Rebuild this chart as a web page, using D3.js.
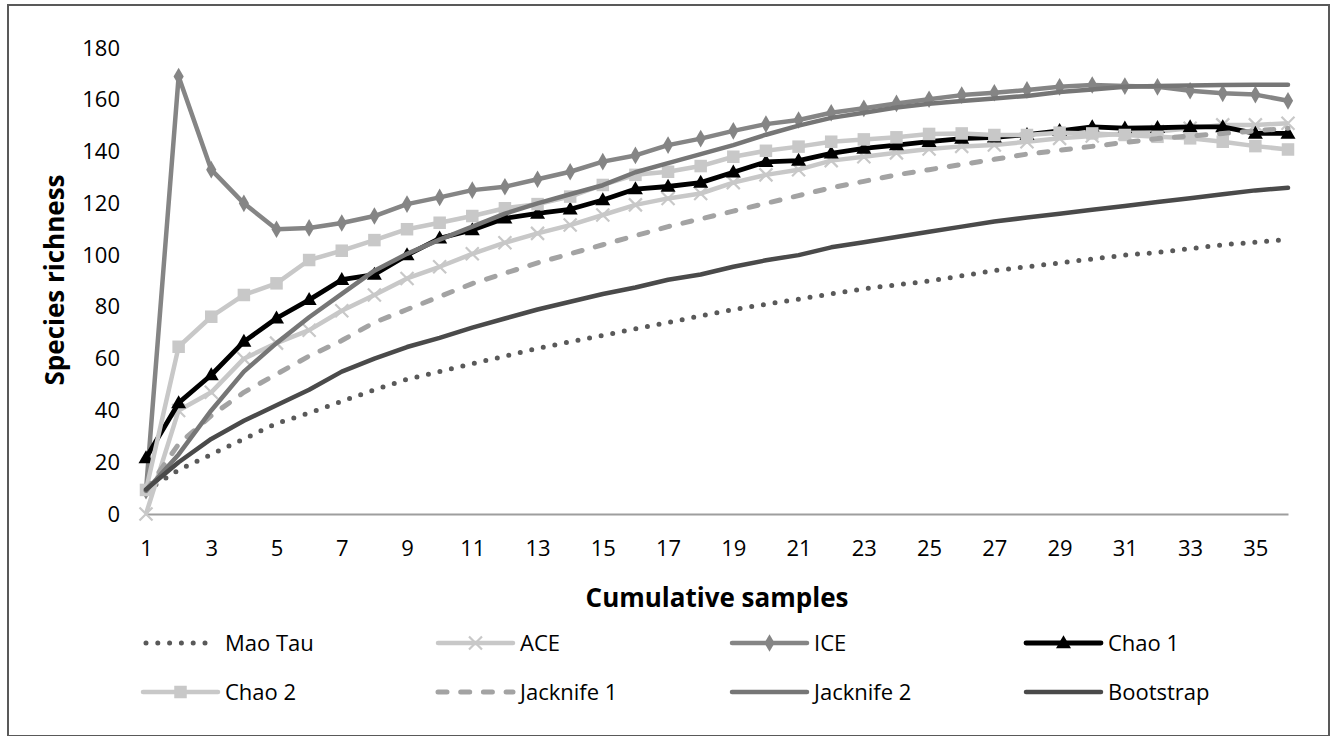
<!DOCTYPE html>
<html>
<head>
<meta charset="utf-8">
<script src="https://cdn.jsdelivr.net/npm/d3@7/dist/d3.min.js"></script>
<style>
  html, body { margin: 0; padding: 0; background: #fff; }
  svg { display: block; font-family: "Open Sans", "Noto Sans", sans-serif; }
</style>
</head>
<body>
<svg id="chart" width="1335" height="736"></svg>
<script>
// ---------------- data ----------------
const samples = d3.range(1, 37);
const xTickLabels = [1, 3, 5, 7, 9, 11, 13, 15, 17, 19, 21, 23, 25, 27, 29, 31, 33, 35];
const yTickLabels = [0, 20, 40, 60, 80, 100, 120, 140, 160, 180];

const maoTau = [9, 17, 23, 29, 35, 39, 43.5, 48, 52, 55, 58, 61, 64, 66.5, 69, 71.5, 74, 76.5, 79, 81, 83, 85, 87, 88.5, 90, 92, 94, 95.5, 97, 98.5, 100, 101, 102.5, 104, 105, 106];
const ace = [0, 40, 47, 60, 66, 71, 78.5, 84.6, 91, 95.5, 100.5, 104.8, 108.4, 111.6, 115.5, 119.4, 121.9, 123.8, 128, 131, 133, 136.5, 138, 139.5, 141, 142, 142.5, 143.8, 145.1, 146, 147, 147.7, 149, 150.3, 150.3, 150.9];
const ice = [9, 169, 133, 120, 110, 110.5, 112.4, 115.1, 119.7, 122.3, 125.1, 126.4, 129.3, 132.2, 136.1, 138.5, 142.5, 145, 148, 150.6, 152.2, 155, 156.7, 158.6, 160.2, 161.8, 162.7, 163.8, 165, 165.7, 165.3, 165, 163.5, 162.5, 162, 159.6];
const chao1 = [21.6, 42.9, 53.7, 66.6, 75.6, 82.7, 90.5, 92.5, 100, 106.5, 109.7, 114.2, 116.1, 117.7, 121.3, 125.5, 126.5, 128, 132, 136, 136.5, 139.3, 141.2, 142.5, 143.8, 145, 145.5, 146.5, 148, 149.5, 149, 149.2, 149.5, 149.5, 147, 147];
const chao2 = [9.3, 64.6, 76.2, 84.6, 89.1, 98.1, 101.7, 105.8, 110, 112.5, 115.1, 118.1, 119.7, 122.6, 127.1, 131, 132.2, 134.4, 138, 140.3, 141.9, 143.8, 144.7, 145.5, 146.8, 147, 146.4, 146.4, 147.3, 147, 146.4, 145.7, 145.1, 143.8, 142.1, 140.8];
const jacknife1 = [9, 27, 38, 47, 54, 61, 67, 74, 79, 84, 89, 93, 97, 100.5, 104, 107.5, 111, 114, 117, 120, 123, 126, 128.5, 131, 133, 135, 137, 139, 140.5, 142, 143.5, 145, 146, 147, 148, 149];
const jacknife2 = [9, 23, 40, 55, 66, 76, 85, 94, 100.5, 106, 111, 116, 120, 123.5, 127, 132, 135.5, 139, 142.5, 146.5, 150, 153, 155, 157, 158.5, 159.5, 160.5, 161.5, 163, 164, 165, 165.3, 165.5, 165.7, 165.8, 165.8];
const bootstrap = [9.5, 20, 29, 36, 42, 48, 55, 60, 64.5, 68, 72, 75.5, 79, 82, 85, 87.5, 90.5, 92.5, 95.5, 98, 100, 103, 105, 107, 109, 111, 113, 114.5, 116, 117.5, 119, 120.5, 122, 123.5, 125, 126];

const seriesNames = ["Mao Tau", "ACE", "ICE", "Chao 1", "Chao 2", "Jacknife 1", "Jacknife 2", "Bootstrap"];
const seriesValues = [maoTau, ace, ice, chao1, chao2, jacknife1, jacknife2, bootstrap];

// ---------------- styles ----------------
const styles = {
  "Mao Tau":    { color: "#595959", width: 5, dash: "0 11.8", cap: "round", marker: null },
  "ACE":        { color: "#c8c8c8", width: 4.5, dash: null, cap: "butt", marker: "x" },
  "ICE":        { color: "#858585", width: 4.5, dash: null, cap: "butt", marker: "diamond" },
  "Chao 1":     { color: "#000000", width: 4.8, dash: null, cap: "butt", marker: "triangle" },
  "Chao 2":     { color: "#c8c8c8", width: 4.5, dash: null, cap: "butt", marker: "square" },
  "Jacknife 1": { color: "#a3a3a3", width: 5, dash: "9 13.7", cap: "round", marker: null },
  "Jacknife 2": { color: "#767676", width: 4.5, dash: null, cap: "round", marker: null },
  "Bootstrap":  { color: "#4a4a4a", width: 4.5, dash: null, cap: "round", marker: null }
};

const svg = d3.select("#chart");

// chart border
svg.append("rect")
  .attr("x", 8).attr("y", 5).attr("width", 1321).attr("height", 731)
  .attr("fill", "#fff").attr("stroke", "#595959").attr("stroke-width", 2);

const x = d3.scalePoint().domain(samples).range([146, 1288]);
const y = d3.scaleLinear().domain([0, 180]).range([514, 48]);

// x axis
const xAxis = svg.append("g")
  .attr("transform", "translate(0,514)")
  .call(d3.axisBottom(x).tickValues(xTickLabels).tickSize(0).tickSizeOuter(0).tickPadding(26));
xAxis.select(".domain").attr("stroke", "#9e9e9e").attr("stroke-width", 2);
xAxis.selectAll("text").attr("font-size", 22).attr("fill", "#000").attr("font-family", "Open Sans");

// y axis
const yAxis = svg.append("g")
  .attr("transform", "translate(146,0)")
  .call(d3.axisLeft(y).tickValues(yTickLabels).tickSize(0).tickPadding(26));
yAxis.select(".domain").remove();
yAxis.selectAll("text").attr("font-size", 22).attr("fill", "#000").attr("font-family", "Open Sans");

// axis titles
svg.append("text")
  .attr("x", 717).attr("y", 607)
  .attr("text-anchor", "middle")
  .attr("font-size", 26).attr("font-weight", "bold")
  .text("Cumulative samples");

svg.append("text")
  .attr("transform", "translate(55,280) rotate(-90)")
  .attr("text-anchor", "middle")
  .attr("dy", "0.35em")
  .attr("font-size", 26).attr("font-weight", "bold")
  .text("Species richness");

// marker drawing
function drawMarker(g, type, cx, cy, color) {
  if (type === "x") {
    const s = 6.5;
    g.append("path")
      .attr("d", `M${cx - s},${cy - s}L${cx + s},${cy + s}M${cx - s},${cy + s}L${cx + s},${cy - s}`)
      .attr("stroke", color).attr("stroke-width", 2.2).attr("fill", "none");
  } else if (type === "diamond") {
    g.append("path")
      .attr("d", d3.symbol().type(d3.symbolDiamond).size(90)())
      .attr("transform", `translate(${cx},${cy})`)
      .attr("fill", color);
  } else if (type === "triangle") {
    const w = 15, h = 13;
    g.append("path")
      .attr("d", `M${cx},${cy - h * 0.6}L${cx + w / 2},${cy + h * 0.4}L${cx - w / 2},${cy + h * 0.4}Z`)
      .attr("fill", color);
  } else if (type === "square") {
    const s = 12.5;
    g.append("rect")
      .attr("x", cx - s / 2).attr("y", cy - s / 2).attr("width", s).attr("height", s)
      .attr("fill", color);
  }
}

// series
const plot = svg.append("g");
seriesNames.forEach((name, si) => {
  const st = styles[name];
  const vals = seriesValues[si];
  const g = plot.append("g");
  const line = d3.line().x((d, i) => x(samples[i])).y(d => y(d));
  g.append("path")
    .attr("d", line(vals))
    .attr("fill", "none")
    .attr("stroke", st.color)
    .attr("stroke-width", st.width)
    .attr("stroke-linejoin", "round")
    .attr("stroke-linecap", st.cap)
    .attr("stroke-dasharray", st.dash);
  if (st.marker) {
    vals.forEach((v, i) => drawMarker(g, st.marker, x(samples[i]), y(v), st.color));
  }
});

// legend
const legCols = [143, 438, 732, 1026];
const legRows = [643, 692];
const legend = svg.append("g");
seriesNames.forEach((name, i) => {
  const st = styles[name];
  const x0 = legCols[i % 4];
  const yy = legRows[Math.floor(i / 4)];
  const g = legend.append("g");
  const x1 = name === "Mao Tau" ? x0 + 3 : x0;
  const x2 = name === "Mao Tau" ? x0 + 65 : x0 + 75;
  g.append("line")
    .attr("x1", x1).attr("x2", x2).attr("y1", yy).attr("y2", yy)
    .attr("stroke", st.color)
    .attr("stroke-width", st.width)
    .attr("stroke-linecap", st.cap === "butt" ? "round" : st.cap)
    .attr("stroke-dasharray", st.dash);
  if (st.marker) drawMarker(g, st.marker, x0 + 37.5, yy, st.color);
  g.append("text")
    .attr("x", x0 + 82).attr("y", yy)
    .attr("dy", "0.35em")
    .attr("font-size", 22)
    .attr("fill", "#000")
    .text(name);
});
</script>
</body>
</html>
